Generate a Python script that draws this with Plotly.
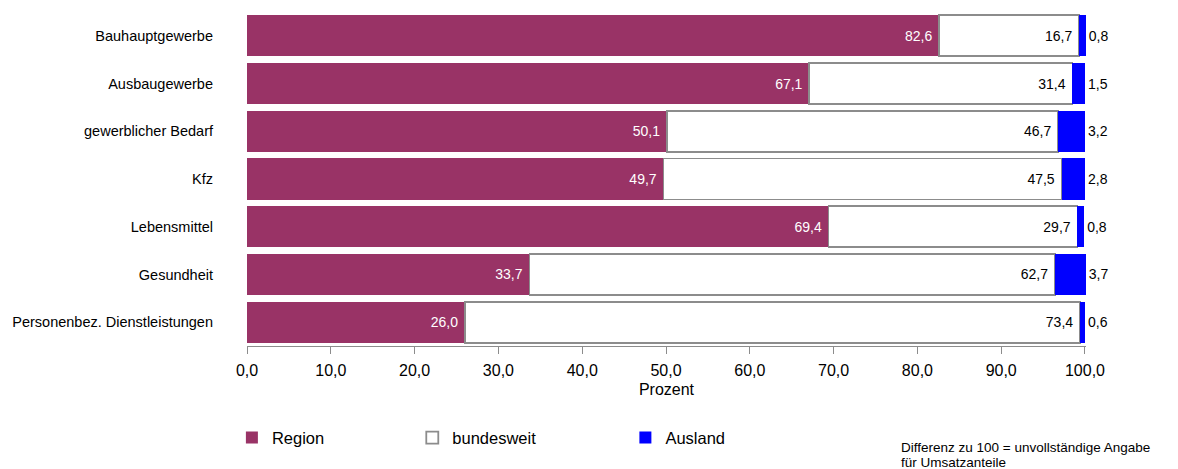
import plotly.graph_objects as go

categories = ["Bauhauptgewerbe", "Ausbaugewerbe", "gewerblicher Bedarf", "Kfz",
              "Lebensmittel", "Gesundheit", "Personenbez. Dienstleistungen"]
region = [82.6, 67.1, 50.1, 49.7, 69.4, 33.7, 26.0]
bundesweit = [16.7, 31.4, 46.7, 47.5, 29.7, 62.7, 73.4]
ausland = [0.8, 1.5, 3.2, 2.8, 0.8, 3.7, 0.6]
x_ticks = [0, 10, 20, 30, 40, 50, 60, 70, 80, 90, 100]

FONT = "Liberation Sans, Arial, sans-serif"
GRAY = "#8c8c8c"

fig = go.Figure()
fig.add_trace(go.Bar(
    y=categories, x=region, name="Region", orientation="h",
    marker=dict(color="#993366", line=dict(width=0)),
    texttemplate="%{x:.1f}\u00a0", textposition="inside", insidetextanchor="end",
    textfont=dict(color="white", size=14, family=FONT),
    legend="legend", cliponaxis=False,
))
fig.add_trace(go.Bar(
    y=categories, x=bundesweit, name="bundesweit", orientation="h",
    marker=dict(color="white", line=dict(color=GRAY, width=1.8)),
    texttemplate="%{x:.1f}\u00a0", textposition="inside", insidetextanchor="end",
    textfont=dict(color="black", size=14, family=FONT),
    legend="legend2", cliponaxis=False,
))
fig.add_trace(go.Bar(
    y=categories, x=ausland, name="Ausland", orientation="h",
    marker=dict(color="#0000FF", line=dict(width=0)),
    texttemplate="%{x:.1f}", textposition="outside", constraintext="none",
    textfont=dict(color="black", size=14, family=FONT),
    legend="legend3", cliponaxis=False,
))

legend_common = dict(orientation="h", yanchor="middle", y=-0.275, xref="paper",
                     xanchor="left", font=dict(size=16.5, family=FONT, color="black"),
                     itemwidth=30, bgcolor="rgba(0,0,0,0)", tracegroupgap=0)

fig.update_layout(
    width=1178, height=469,
    margin=dict(l=247, r=92, t=12, b=123),
    barmode="stack", bargap=0.14,
    separators=",.",
    plot_bgcolor="white", paper_bgcolor="white",
    font=dict(family=FONT, color="black", size=14),
    showlegend=True,
    legend=dict(legend_common, x=-0.018),
    legend2=dict(legend_common, x=0.197),
    legend3=dict(legend_common, x=0.451),
    xaxis=dict(range=[0, 100.12], tickvals=x_ticks, tickformat=".1f",
               ticks="outside", ticklen=7, tickcolor=GRAY,
               showline=True, linecolor=GRAY, linewidth=1,
               showgrid=False, zeroline=False, ticklabelstandoff=3,
               tickfont=dict(size=16, family=FONT),
               title=dict(text="Prozent", font=dict(size=16, family=FONT), standoff=5)),
    yaxis=dict(categoryorder="array", categoryarray=categories[::-1],
               showgrid=False, showline=False, ticks="",
               ticklabelstandoff=33,
               tickfont=dict(size=14.5, family=FONT)),
    annotations=[
        dict(text="Differenz zu 100 = unvollständige Angabe",
             xref="paper", yref="paper", x=0.777, y=-0.304,
             xanchor="left", yanchor="middle", align="left", showarrow=False,
             font=dict(size=13.5, family=FONT, color="black")),
        dict(text="für Umsatzanteile",
             xref="paper", yref="paper", x=0.777, y=-0.349,
             xanchor="left", yanchor="middle", align="left", showarrow=False,
             font=dict(size=13.5, family=FONT, color="black")),
    ],
)

fig.write_html("out.html")
